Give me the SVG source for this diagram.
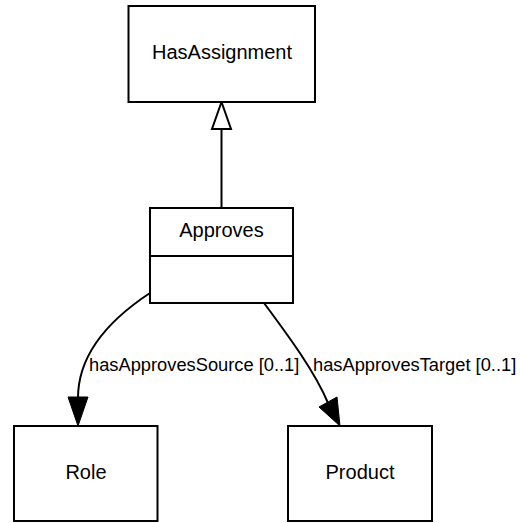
<svg xmlns="http://www.w3.org/2000/svg" width="521" height="523" viewBox="0 0 521 523">
<style>
.box{fill:#fff;stroke:#000;stroke-width:2}
.lbl{font-family:"Liberation Sans",Arial,sans-serif;font-size:20px;fill:#000;text-anchor:middle}
.elbl{font-family:"Liberation Sans",Arial,sans-serif;font-size:18.3px;fill:#000}
.edge{fill:none;stroke:#000;stroke-width:2}
</style>
<rect width="521" height="523" fill="#fff"/>
<g id="connectors">
<path class="edge" d="M221.5,208 V129"/>
<polygon points="221.5,102 212,129 231,129" fill="#fff" stroke="#000" stroke-width="2"/>
<path class="edge" d="M150,293 C112,318 78,352 78,398"/>
<polygon points="78,426 68,397 88,397" fill="#000" stroke="#000" stroke-width="1"/>
<text class="elbl" x="89" y="371">hasApprovesSource [0..1]</text>
<path class="edge" d="M264,303 C290,338 315,372 328,403"/>
<polygon points="340,426 319,407 337,397" fill="#000" stroke="#000" stroke-width="1"/>
<text class="elbl" x="313" y="371">hasApprovesTarget [0..1]</text>
</g>
<g id="HasAssignment">
<rect class="box" x="128.5" y="6" width="186.5" height="96"/>
<text class="lbl" x="222" y="59">HasAssignment</text>
</g>
<g id="Approves">
<rect class="box" x="150" y="208" width="143" height="95"/>
<line x1="150" y1="256" x2="293" y2="256" stroke="#000" stroke-width="2"/>
<text class="lbl" x="221.5" y="237">Approves</text>
</g>
<g id="Role">
<rect class="box" x="14" y="426" width="143.5" height="95"/>
<text class="lbl" x="86" y="479">Role</text>
</g>
<g id="Product">
<rect class="box" x="288" y="426" width="144" height="95"/>
<text class="lbl" x="360" y="479">Product</text>
</g>
</svg>
